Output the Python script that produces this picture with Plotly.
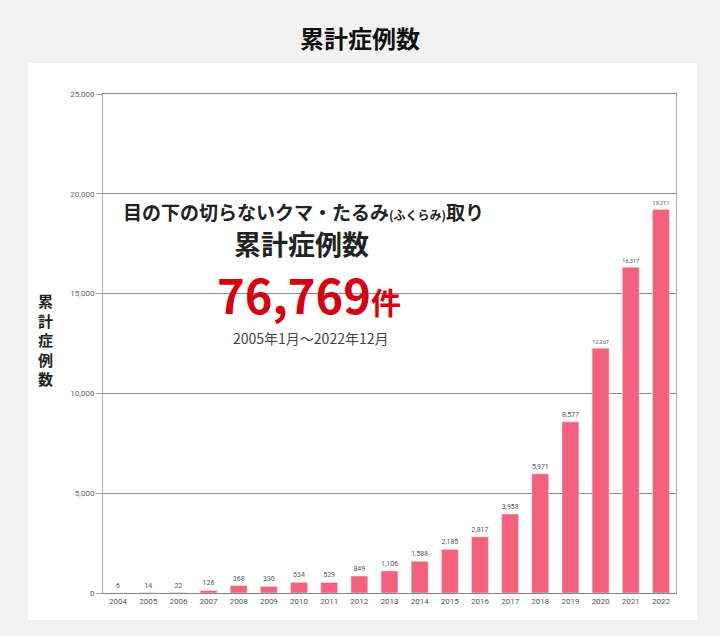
import plotly.graph_objects as go

years = ["2004", "2005", "2006", "2007", "2008", "2009", "2010", "2011", "2012", "2013",
         "2014", "2015", "2016", "2017", "2018", "2019", "2020", "2021", "2022"]
cases = [6, 14, 22, 126, 368, 330, 534, 529, 849, 1106,
         1588, 2185, 2817, 3958, 5971, 8577, 12267, 16317, 19211]
y_ticks = [0, 5000, 10000, 15000, 20000, 25000]
axis_title = "累計症例数"

jp_font = "Noto Sans CJK JP"
num_font = "Roboto, Noto Sans CJK JP"

# plot area in pixels: x 103..676, y 94..593
W, H = 720, 636
L, R, T, B = 103, 44, 94, 43
PW, PH = W - L - R, H - T - B


def px(x):
    return (x - L) / PW


def py(y):
    return (H - B - y) / PH


fig = go.Figure()
fig.add_trace(go.Bar(
    x=years, y=cases,
    marker_color="#f5607d",
    text=cases, texttemplate="%{y:,}", textposition="outside",
    textfont=dict(size=7, color="#555", family=num_font),
    cliponaxis=False,
))

# white card behind the chart
fig.add_shape(type="rect", xref="paper", yref="paper",
              x0=px(28), x1=px(697), y0=py(620), y1=py(63),
              fillcolor="white", line_width=0, layer="below")


def note(x, y, text, size, color="#222"):
    fig.add_annotation(xref="paper", yref="paper", x=px(x), y=py(y),
                       xanchor="center", yanchor="middle", text=text, showarrow=False,
                       font=dict(family=jp_font, size=size, color=color))


# headline block inside the plot
note(303, 211, "<b>目の下の切らないクマ・たるみ<span style='font-size:12px'>(ふくらみ)</span>取り</b>", 19)
note(301, 244, "<b>累計症例数</b>", 27)
note(309, 293, "<b>76,769</b><b><span style='font-size:30px'>件</span></b>", 47, "#d7000f")
note(310, 338, "2005年1月～2022年12月", 14, "#444")

# vertical axis title, one character per line
note(45, 339, "<b>" + "<br>".join(axis_title) + "</b>", 15)

fig.update_layout(
    width=W, height=H,
    margin=dict(l=L, r=R, t=T, b=B),
    paper_bgcolor="#f2f2f2", plot_bgcolor="white",
    title=dict(text="<b>累計症例数</b>", x=0.5, xanchor="center", y=1 - 40 / H, yanchor="middle",
               font=dict(family=jp_font, size=24, color="#111")),
    showlegend=False,
    bargap=0.44,
)
fig.update_xaxes(
    showline=True, linecolor="#888", linewidth=1, mirror=True,
    tickfont=dict(size=8, color="#555", family=num_font),
    ticks="", showgrid=False,
)
fig.update_yaxes(
    range=[0, 25000], tickvals=y_ticks, tickformat=",",
    showgrid=True, gridcolor="#8c8c8c", gridwidth=1,
    showline=True, linecolor="#aaa", mirror=True,
    ticks="outside", ticklen=6, tickcolor="#aaa",
    tickfont=dict(size=8, color="#666", family=num_font),
    zeroline=False,
)

fig.write_html("out.html", config={"displayModeBar": False},
               post_script="document.body.style.margin='0';document.body.style.overflow='hidden';")
